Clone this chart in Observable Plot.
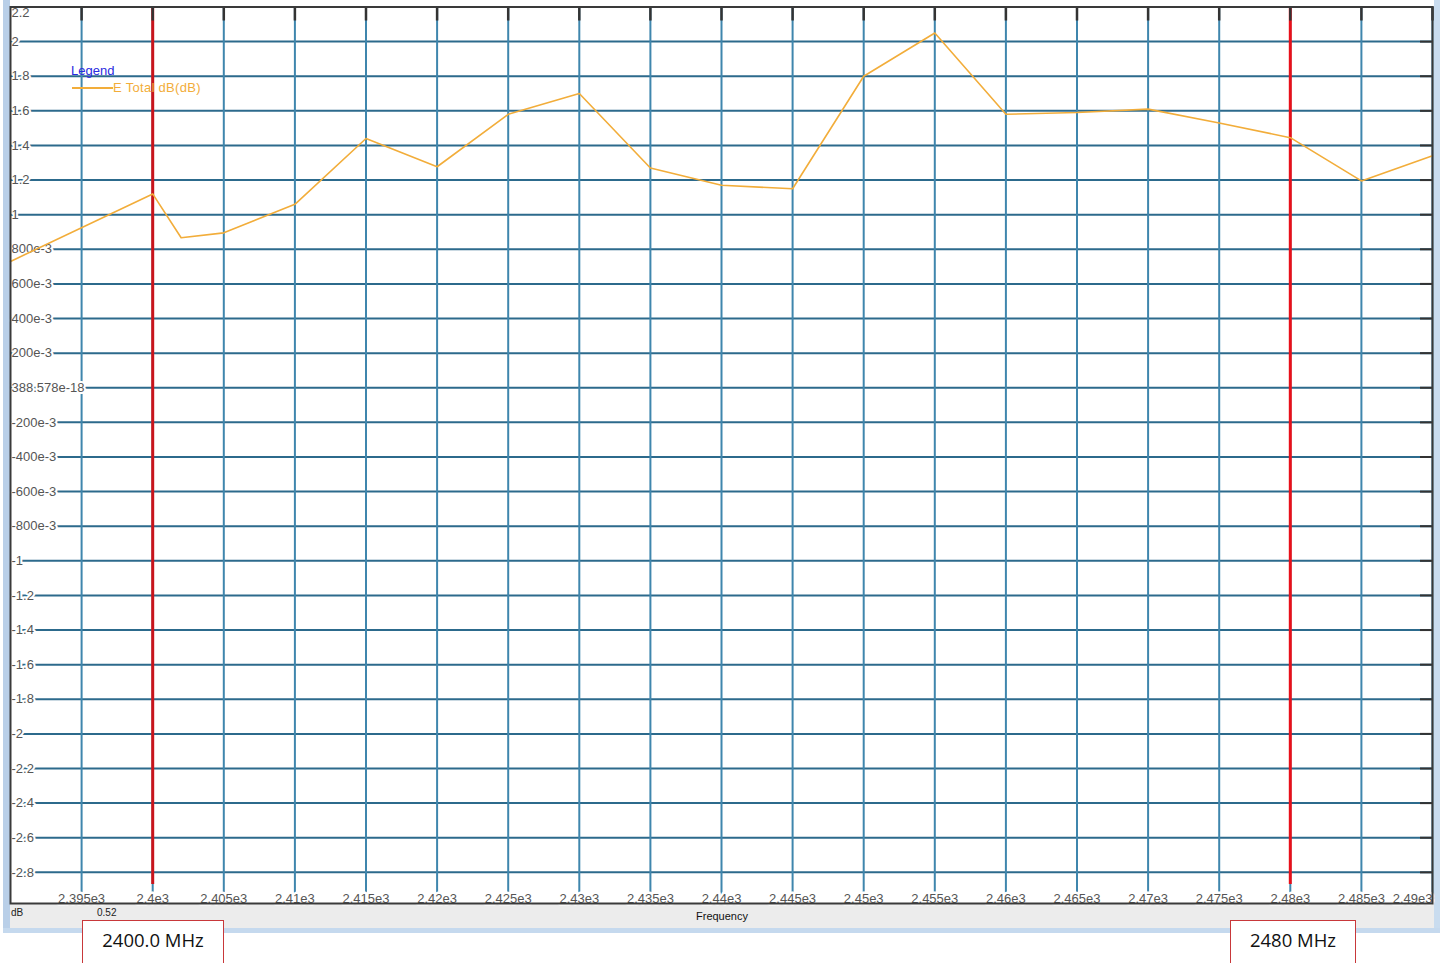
<!DOCTYPE html>
<html><head><meta charset="utf-8">
<script src="https://cdn.jsdelivr.net/npm/d3@7"></script>
<script src="https://cdn.jsdelivr.net/npm/@observablehq/plot@0.6"></script>
<style>
body{margin:0;background:#fff;width:1445px;height:963px;overflow:hidden;position:relative;font-family:"Liberation Sans",Arial,sans-serif;}
.abs{position:absolute;}
#chart{position:absolute;left:0;top:0;z-index:2;}
.box{position:absolute;z-index:3;background:#fff;border:1.5px solid #c8383a;box-sizing:border-box;font-family:"Open Sans",sans-serif;font-size:18.5px;color:#111;text-align:center;line-height:38px;}
</style></head><body>
<div class="abs" style="left:3px;top:0;width:7px;height:933px;background:#b9cfe8;"></div>
<div class="abs" style="left:1434px;top:0;width:6px;height:933px;background:#c9dcef;"></div>
<div class="abs" style="left:10px;top:903px;width:1424px;height:25px;background:#ececec;"></div>
<div class="abs" style="left:3px;top:928px;width:1437px;height:5px;background:#c5d9ee;"></div>
<div class="abs" style="left:11px;top:907px;font-size:10px;color:#222;z-index:3;">dB</div>
<div class="abs" style="left:97px;top:907px;font-size:10px;color:#222;z-index:3;">0.52</div>
<div class="abs" style="left:672px;top:910px;width:100px;text-align:center;font-size:11px;color:#111;z-index:3;">Frequency</div>
<div id="chart"></div>
<div class="abs" style="left:71px;top:63px;font-size:13px;color:#2a2ae0;z-index:4;">Legend</div>
<div class="abs" style="left:72px;top:87px;width:41px;height:1.5px;background:#f2ad3a;z-index:4;"></div>
<div class="abs" style="left:113px;top:80px;font-size:13px;color:#f2ad3a;z-index:4;letter-spacing:0.3px;">E Total dB(dB)</div>
<div class="box" style="left:82px;top:920px;width:142px;height:50px;">2400.0 MHz</div>
<div class="box" style="left:1230px;top:920px;width:126px;height:50px;">2480 MHz</div>
<script>
const freq = [2390, 2400, 2402, 2405, 2410, 2415, 2420, 2425, 2430, 2435, 2440, 2445, 2450, 2455, 2460, 2465, 2470, 2475, 2480, 2485, 2490];
const eTotal = [0.73, 1.12, 0.867, 0.895, 1.06, 1.44, 1.277, 1.58, 1.70, 1.27, 1.17, 1.15, 1.80, 2.05, 1.58, 1.59, 1.61, 1.53, 1.445, 1.195, 1.34];
const xTicks = [2395, 2400, 2405, 2410, 2415, 2420, 2425, 2430, 2435, 2440, 2445, 2450, 2455, 2460, 2465, 2470, 2475, 2480, 2485, 2490];
const xTickLabels = ["2.395e3", "2.4e3", "2.405e3", "2.41e3", "2.415e3", "2.42e3", "2.425e3", "2.43e3", "2.435e3", "2.44e3", "2.445e3", "2.45e3", "2.455e3", "2.46e3", "2.465e3", "2.47e3", "2.475e3", "2.48e3", "2.485e3", "2.49e3"];
const yTicks = [2.2, 2, 1.8, 1.6, 1.4, 1.2, 1, 0.8, 0.6, 0.4, 0.2, 0, -0.2, -0.4, -0.6, -0.8, -1, -1.2, -1.4, -1.6, -1.8, -2, -2.2, -2.4, -2.6, -2.8];
const yTickLabels = ["2.2", "2", "1.8", "1.6", "1.4", "1.2", "1", "800e-3", "600e-3", "400e-3", "200e-3", "388.578e-18", "-200e-3", "-400e-3", "-600e-3", "-800e-3", "-1", "-1.2", "-1.4", "-1.6", "-1.8", "-2", "-2.2", "-2.4", "-2.6", "-2.8"];
const markers = [2400, 2480];
const markerColors = ["#c8141c", "#e8101a"];
const xDomain = [2390, 2490];
const yDomain = [-2.98, 2.2];

const data = freq.map((f, i) => ({f, v: eTotal[i]}));
const xt = xTicks.map((x, i) => ({x, label: xTickLabels[i]}));
const yt = yTicks.map((y, i) => ({y, label: yTickLabels[i]}));
const mk = markers.map((x, i) => ({x, c: markerColors[i]}));

const W = 1445, H = 963, mL = 10, mR = 13, mT = 6.5, mB = 60;
const plotH = H - mT - mB, plotW = W - mL - mR;

const chart = Plot.plot({
  width: W, height: H,
  marginLeft: mL, marginRight: mR, marginTop: mT, marginBottom: mB,
  x: {domain: xDomain, axis: null},
  y: {domain: yDomain, axis: null},
  style: {background: "transparent", fontFamily: "Liberation Sans, Arial, sans-serif", fontSize: "13px", overflow: "visible"},
  marks: [
    Plot.ruleY(yt.slice(1), {y: "y", stroke: "#2c6a8c", strokeWidth: 2}),
    Plot.ruleX(xt, {x: "x", stroke: "#3f86ad", strokeWidth: 2}),
    Plot.ruleX(mk, {x: "x", stroke: "c", strokeWidth: 3, insetBottom: 19}),
    Plot.ruleX(xt, {x: "x", stroke: "#333", strokeWidth: 2.5, insetBottom: plotH - 14}),
    Plot.ruleY(yt.slice(1), {y: "y", stroke: "#333", strokeWidth: 2, insetLeft: plotW - 12}),
    Plot.text(yt.slice(1), {y: "y", text: "label", frameAnchor: "left", textAnchor: "start", dx: 1, fill: "#555", stroke: "white", strokeWidth: 4}),
    Plot.text(yt.slice(0, 1), {y: "y", text: "label", frameAnchor: "left", textAnchor: "start", dx: 1, dy: 6, fill: "#555", stroke: "white", strokeWidth: 4}),
    Plot.text(xt.slice(0, -1), {x: "x", text: "label", frameAnchor: "bottom", lineAnchor: "bottom", dy: -1, fill: "#555", stroke: "white", strokeWidth: 5}),
    Plot.text(xt.slice(-1), {x: "x", text: "label", frameAnchor: "bottom", lineAnchor: "bottom", textAnchor: "end", dy: -1, fill: "#555", stroke: "white", strokeWidth: 5}),
    Plot.line(data, {x: "f", y: "v", stroke: "#f2ad3a", strokeWidth: 1.6}),
    Plot.frame({stroke: "#3a3a3a", strokeWidth: 2})
  ]
});
document.getElementById("chart").appendChild(chart);
</script>
</body></html>
